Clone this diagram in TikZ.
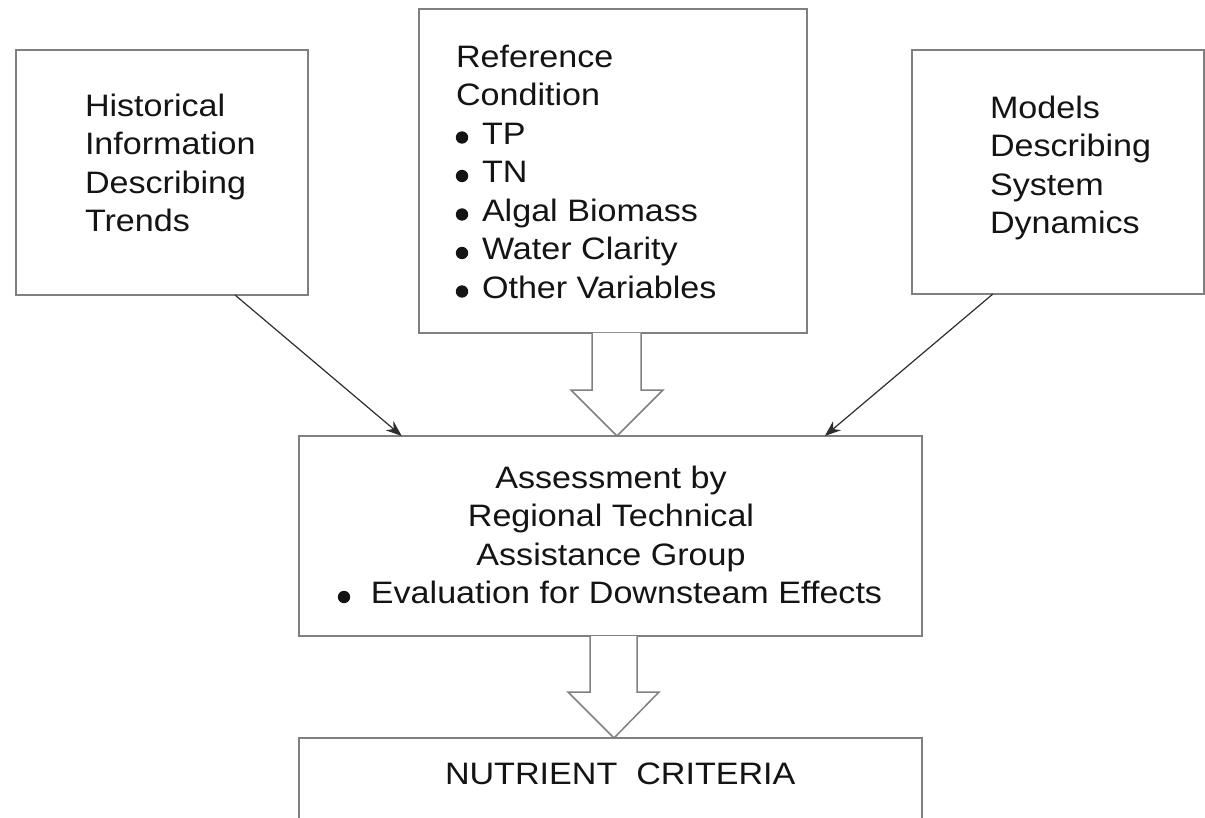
\documentclass[tikz,border=0pt]{standalone}
\usepackage{fontspec}
\setmainfont{Liberation Sans}[FakeStretch=1.1]
\usetikzlibrary{arrows.meta,calc}
\definecolor{boxgray}{HTML}{808080}
\definecolor{txtcol}{HTML}{141414}
\definecolor{arrcol}{HTML}{2E2E2E}
\newcommand\mybul{\hspace*{26pt}}
\begin{document}
\begin{tikzpicture}[x=1pt,y=-1pt,
  box/.style={draw=boxgray, line width=1.5pt, inner sep=0pt, outer sep=0pt, fill=white},
  txt/.style={inner sep=0pt, outer sep=0pt, text=txtcol, align=left, font=\fontsize{31}{38.5}\selectfont},
  conn/.style={draw=arrcol, line width=1.2pt, -{Stealth[length=16pt,width=12pt]}},
  blk/.style={draw=boxgray, line width=1.5pt, fill=white, line join=miter},
  dot/.style={fill=txtcol}]
\useasboundingbox (0,0) rectangle (1205,818);
\fill[white] (0,0) rectangle (1205,818);
% boxes
\node[box, minimum width=292pt, minimum height=245pt] (hist) at (162,172.5) {};
\node[box, minimum width=388pt, minimum height=324pt] (ref) at (613,171) {};
\node[box, minimum width=292pt, minimum height=244pt] (model) at (1058,172) {};
\node[box, minimum width=623pt, minimum height=200pt] (assess) at (610.5,536) {};
\node[box, minimum width=623pt, minimum height=110pt] (crit) at (610.5,793) {};
% texts
\node[txt, anchor=north west] (histtxt) at (85,94) {Historical\\Information\\Describing\\Trends};
\node[txt, anchor=north west] (reftxt) at (456,45) {Reference\\Condition\\\mybul TP\\\mybul TN\\\mybul Algal Biomass\\\mybul Water Clarity\\\mybul Other Variables};
\node[txt, anchor=north west] (modtxt) at (990,96) {Models\\Describing\\System\\Dynamics};
\node[txt, anchor=north, align=center] (asstxt) at (611,466) {Assessment by\\Regional Technical\\Assistance Group\\\hspace*{31pt}Evaluation for Downsteam Effects};
\node[txt, anchor=base west] (crittxt) at (445,784) {NUTRIENT\ \ CRITERIA};
% bullets
\foreach \yy in {137.5,176,214.5,253,291.5}
  \fill[dot] (462,\yy) circle (6.2pt);
\fill[dot] (344,597) circle (6.2pt);
% thin arrows
\draw[conn] ($(hist.south west)!0.75!(hist.south east)$) -- ($(assess.north west)!0.165!(assess.north east)$);
\draw[conn] ($(model.south west)!0.277!(model.south east)$) -- ($(assess.north west)!0.844!(assess.north east)$);
% block arrows
\draw[blk] (592,333) -- (592,390) -- (571,390) -- (617,436) -- (663,390) -- (641,390) -- (641,333);
\draw[blk] (590,636) -- (590,692) -- (568,692) -- (614,738) -- (659,692) -- (637,692) -- (637,636);
\end{tikzpicture}
\end{document}
